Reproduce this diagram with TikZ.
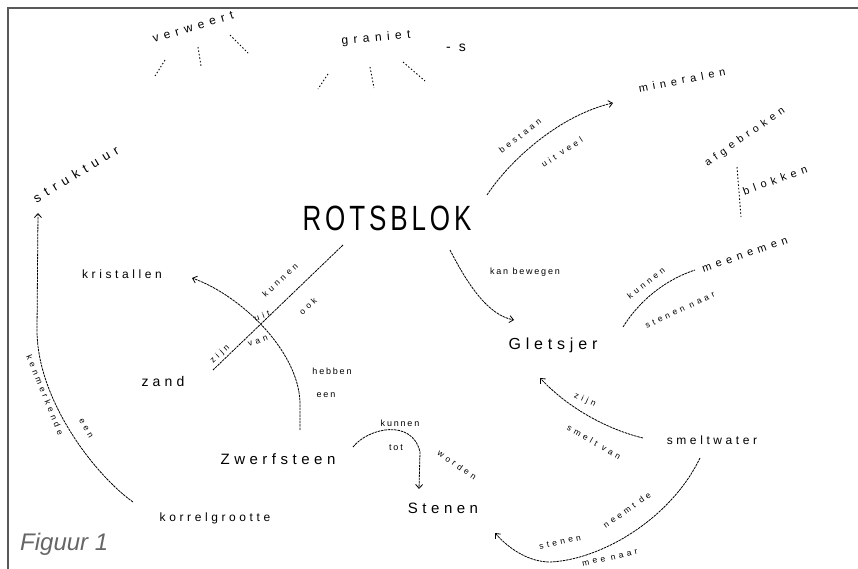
\documentclass[tikz,border=0pt]{standalone}
\usepackage{fontspec}
\usepackage{graphicx}
\setmainfont{Liberation Sans}
\newfontfamily\hand[LetterSpace=30]{Liberation Sans}
\newfontfamily\rhand[LetterSpace=45]{Liberation Sans}
\newfontfamily\smallhand[LetterSpace=20]{Liberation Sans}
\newfontfamily\rsmallhand[LetterSpace=40]{Liberation Sans}
\newfontfamily\bighand[LetterSpace=15]{Liberation Sans}
\usetikzlibrary{arrows.meta}
\begin{document}
\begin{tikzpicture}[x=1pt,y=-1pt,
  concept/.style={font=\hand\fontsize{14}{14}\selectfont, inner sep=1pt},
  rconcept/.style={font=\rhand\fontsize{11}{11}\selectfont, inner sep=1pt},
  lab/.style={font=\smallhand\fontsize{9}{9}\selectfont, inner sep=0.5pt},
  rlab/.style={font=\rsmallhand\fontsize{8.5}{8.5}\selectfont, inner sep=0.5pt},
  conn/.style={line width=0.8pt, dash pattern=on 2.5pt off 0.8pt},
  faint/.style={line width=0.9pt, dash pattern=on 1.5pt off 2pt},
  tip/.style={-{Straight Barb[length=4pt,width=7pt]}}]
\useasboundingbox (0,0) rectangle (858,569);
% frame
\draw[gray!70!black, line width=1.3pt] (8,569) -- (8,8) -- (858,8);

% concepts
\node[inner sep=1pt] (rots) at (387,218) {\scalebox{1}[1.35]{\bighand\fontsize{26}{26}\selectfont ROTSBLOK}};
\node[rconcept, rotate=17, font=\rhand\fontsize{12}{12}\selectfont] (verw) at (193,27) {verweert};
\node[rconcept, rotate=5, font=\rhand\fontsize{12}{12}\selectfont] (gran) at (376,38) {graniet};
\node[concept] (gs) at (456,48) {- s};
\node[rconcept, rotate=31, font=\rhand\fontsize{13}{13}\selectfont] (struk) at (76,174) {struktuur};
\node[concept, font=\hand\fontsize{12}{12}\selectfont] (krist) at (122,274) {kristallen};
\node[concept, font=\hand\fontsize{14}{14}\selectfont] (zand) at (163,381) {zand};
\node[concept, font=\hand\fontsize{15}{15}\selectfont] (zwerf) at (278,459) {Zwerfsteen};
\node[concept, font=\hand\fontsize{15}{15}\selectfont] (stenen) at (443,508) {Stenen};
\node[concept, font=\hand\fontsize{12}{12}\selectfont] (korrel) at (215,518) {korrelgrootte};
\node[concept, font=\hand\fontsize{16}{16}\selectfont] (glet) at (553,345) {Gletsjer};
\node[rconcept, rotate=19] (meen) at (745,255) {meenemen};
\node[rconcept, rotate=11] (miner) at (682,80) {mineralen};
\node[rconcept, rotate=35, font=\rhand\fontsize{10.5}{10.5}\selectfont] (afgebr) at (745,137) {afgebroken};
\node[rconcept, rotate=20] (blok) at (775,180) {blokken};
\node[concept, font=\hand\fontsize{12}{12}\selectfont] (smelt) at (712,440) {smeltwater};
\node[font=\itshape\fontsize{24}{24}\selectfont, text=gray!80!black, anchor=west, inner sep=0pt] (fig) at (20,544) {Figuur 1};

% connector end points
\coordinate (r1) at (450,250);
\coordinate (g1) at (514,320);
\coordinate (g2) at (623,327);
\coordinate (m1) at (695,270);
\coordinate (r2) at (487,195);
\coordinate (mi1) at (613,103);
\coordinate (a1) at (737,167);
\coordinate (b1) at (741,217);
\coordinate (r3) at (343,245);
\coordinate (z1) at (213,370);
\coordinate (zw1) at (300,430);
\coordinate (k1) at (192,278);
\coordinate (zw2) at (353,447);
\coordinate (s1) at (419,489);
\coordinate (sm1) at (643,438);
\coordinate (g3) at (540,378);
\coordinate (sm2) at (700,458);
\coordinate (s2) at (495,533);
\coordinate (ko1) at (133,502);
\coordinate (st1) at (38,213);

% connectors
\draw[conn,tip] (r1) .. controls (468,285) and (488,315) .. (g1);
\draw[conn] (g2) .. controls (640,300) and (665,280) .. (m1);
\draw[conn,tip] (r2) .. controls (510,160) and (560,115) .. (mi1);
\draw[faint] (a1) -- (b1);
\draw[conn] (r3) -- (z1);
\draw[conn,tip] (zw1) -- (300,402) .. controls (298,350) and (240,295) .. (k1);
\draw[conn,tip] (zw2) .. controls (368,428) and (412,418) .. (420,452) -- (s1);
\draw[conn,tip] (sm1) .. controls (610,430) and (570,410) .. (g3);
\draw[conn,tip] (sm2) .. controls (670,520) and (600,560) .. (550,562) .. controls (530,562) and (510,550) .. (s2);
\draw[conn,tip] (ko1) .. controls (95,475) and (37,400) .. (37,330) -- (st1);

% faint strokes at the top
\draw[faint] (165,60) -- (155,76);
\draw[faint] (198,47) -- (201,66);
\draw[faint] (230,35) -- (248,53);
\draw[faint] (328,74) -- (318,89);
\draw[faint] (370,67) -- (374,88);
\draw[faint] (403,62) -- (425,81);

% connector labels
\node[lab] (l1) at (525,272) {kan bewegen};
\node[rlab, rotate=38] (l2) at (646,283) {kunnen};
\node[rlab, rotate=25] (l3) at (680,310) {stenen naar};
\node[rlab, rotate=38] (l4) at (520,136) {bestaan};
\node[rlab, rotate=33] (l5) at (562,152) {uit veel};
\node[rlab, rotate=43] (l6) at (280,280) {kunnen};
\node[rlab, rotate=20] (l7) at (262,316) {uit};
\node[rlab, rotate=43] (l8) at (308,306) {ook};
\node[rlab, rotate=43] (l9) at (220,354) {zijn};
\node[rlab, rotate=20] (l10) at (258,341) {van};
\node[lab] (l11) at (332,371) {hebben};
\node[lab] (l12) at (326,395) {een};
\node[lab] (l13) at (400,423) {kunnen};
\node[lab] (l14) at (396,448) {tot};
\node[rlab, rotate=-35] (l15) at (457,465) {worden};
\node[rlab, rotate=-25] (l16) at (585,400) {zijn};
\node[rlab, rotate=-30] (l17) at (594,442) {smelt van};
\node[rlab, rotate=35] (l18) at (627,510) {neemt de};
\node[rlab, rotate=12] (l19) at (560,542) {stenen};
\node[rlab, rotate=12] (l20) at (610,558) {mee naar};
\node[rlab, rotate=-68] (l21) at (45,395) {kenmerkende};
\node[rlab, rotate=-60] (l22) at (86,428) {een};
\end{tikzpicture}
\end{document}
